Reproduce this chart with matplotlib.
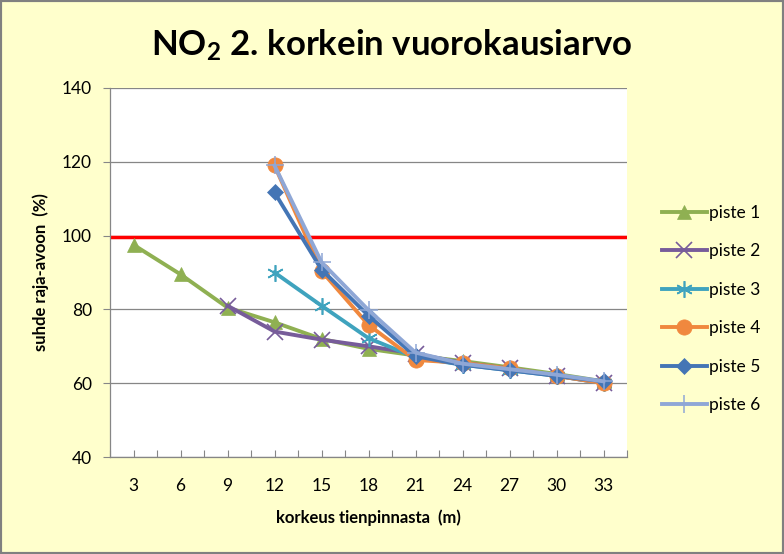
import matplotlib
matplotlib.use("Agg")
import matplotlib.pyplot as plt
from matplotlib.patches import Rectangle
import numpy as np

plt.rcParams['font.family'] = ['Lato', 'DejaVu Sans']
plt.rcParams['mathtext.fontset'] = 'custom'
plt.rcParams['mathtext.rm'] = 'Lato:bold'
plt.rcParams['mathtext.it'] = 'Lato:bold'
plt.rcParams['mathtext.bf'] = 'Lato:bold'
plt.rcParams['mathtext.default'] = 'rm'

heights = [3, 6, 9, 12, 15, 18, 21, 24, 27, 30, 33]
N = np.nan
piste1 = [97.5, 89.5, 80.5, 76.5, 72.0, 69.3, 67.5, 66.0, 64.3, 62.5, 60.5]
piste2 = [N, N, 81.0, 74.0, 71.8, 70.0, 68.0, 65.5, 64.0, 62.0, 60.0]
piste3 = [N, N, N, 90.0, 81.0, 72.2, 67.0, 65.0, 63.5, 62.0, 60.0]
piste4 = [N, N, N, 119.0, 90.4, 75.8, 66.3, 65.5, 64.0, 62.0, 60.0]
piste5 = [N, N, N, 111.7, 90.8, 78.3, 67.3, 65.0, 63.5, 62.0, 60.5]
piste6 = [N, N, N, 119.0, 92.8, 79.8, 68.3, 65.3, 63.8, 62.3, 60.5]
limit_value = 99.5

series = [
    ("piste 1", piste1, "#8FB052", "^", 10, 0.5),
    ("piste 2", piste2, "#775C9A", "x", 11, 1.2),
    ("piste 3", piste3, "#3FA3BE", (6, 2, 0), 12, 1.2),
    ("piste 4", piste4, "#F0883E", "o", 11, 0.5),
    ("piste 5", piste5, "#4475B5", "D", 8.5, 0.5),
    ("piste 6", piste6, "#8FA7D6", "+", 13, 1.1),
]

W, H = 784, 554
fig = plt.figure(figsize=(W / 100, H / 100), dpi=100, facecolor="#FFFFCC")
ax = fig.add_axes([110 / W, (H - 457) / H, 517 / W, 369 / H])
ax.set_facecolor("white")

ax.axhline(limit_value, color="#FF0000", lw=2.5, zorder=2)

for i, (name, vals, col, mk, ms, mew) in enumerate(series):
    ax.plot(heights, vals, color=col, lw=2.8, marker=mk, markersize=ms,
            markeredgewidth=mew, markeredgecolor=col, markerfacecolor=col,
            label=name, zorder=3 + i)

ax.set_xlim(1.5, 34.5)
ax.set_ylim(40, 140)
ax.set_xticks(heights)
ax.set_xticklabels([str(h) for h in heights])
ax.set_xticks(np.arange(1.5, 34.6, 3.0), minor=True)
ax.set_yticks([40, 60, 80, 100, 120, 140])
ax.tick_params(axis='x', which='both', direction='in', length=5, width=0.8,
               color="#868686", labelsize=12.5, pad=15)
ax.tick_params(axis='y', direction='out', length=5, width=0.8,
               color="#868686", labelsize=12.5, pad=8)
ax.grid(axis='y', color="#868686", lw=0.9, zorder=0)
for s in ['top', 'right']:
    ax.spines[s].set_visible(False)
for s in ['left', 'bottom']:
    ax.spines[s].set_color("#868686")
    ax.spines[s].set_linewidth(0.9)

ax.set_xlabel("korkeus tienpinnasta  (m)", fontsize=12, fontweight='bold', labelpad=11)
ax.set_ylabel("suhde raja-avoon  (%)", fontsize=12, fontweight='bold', labelpad=9)

fig.text(0.5, 1 - 45 / H, "NO$_{2}$ 2. korkein vuorokausiarvo", ha='center', va='center',
         fontsize=25, fontweight='bold')

leg = ax.legend(loc='center left', bbox_to_anchor=(646 / W, (H - 309) / H),
                bbox_transform=fig.transFigure, frameon=False, fontsize=12.5,
                handlelength=2.6, handletextpad=0.15, labelspacing=1.3)

fig.patches.append(Rectangle((0, 0), 1, 1, transform=fig.transFigure, fill=False,
                             edgecolor="#808080", lw=3))

fig.savefig("out.png", dpi=100, facecolor=fig.get_facecolor())
